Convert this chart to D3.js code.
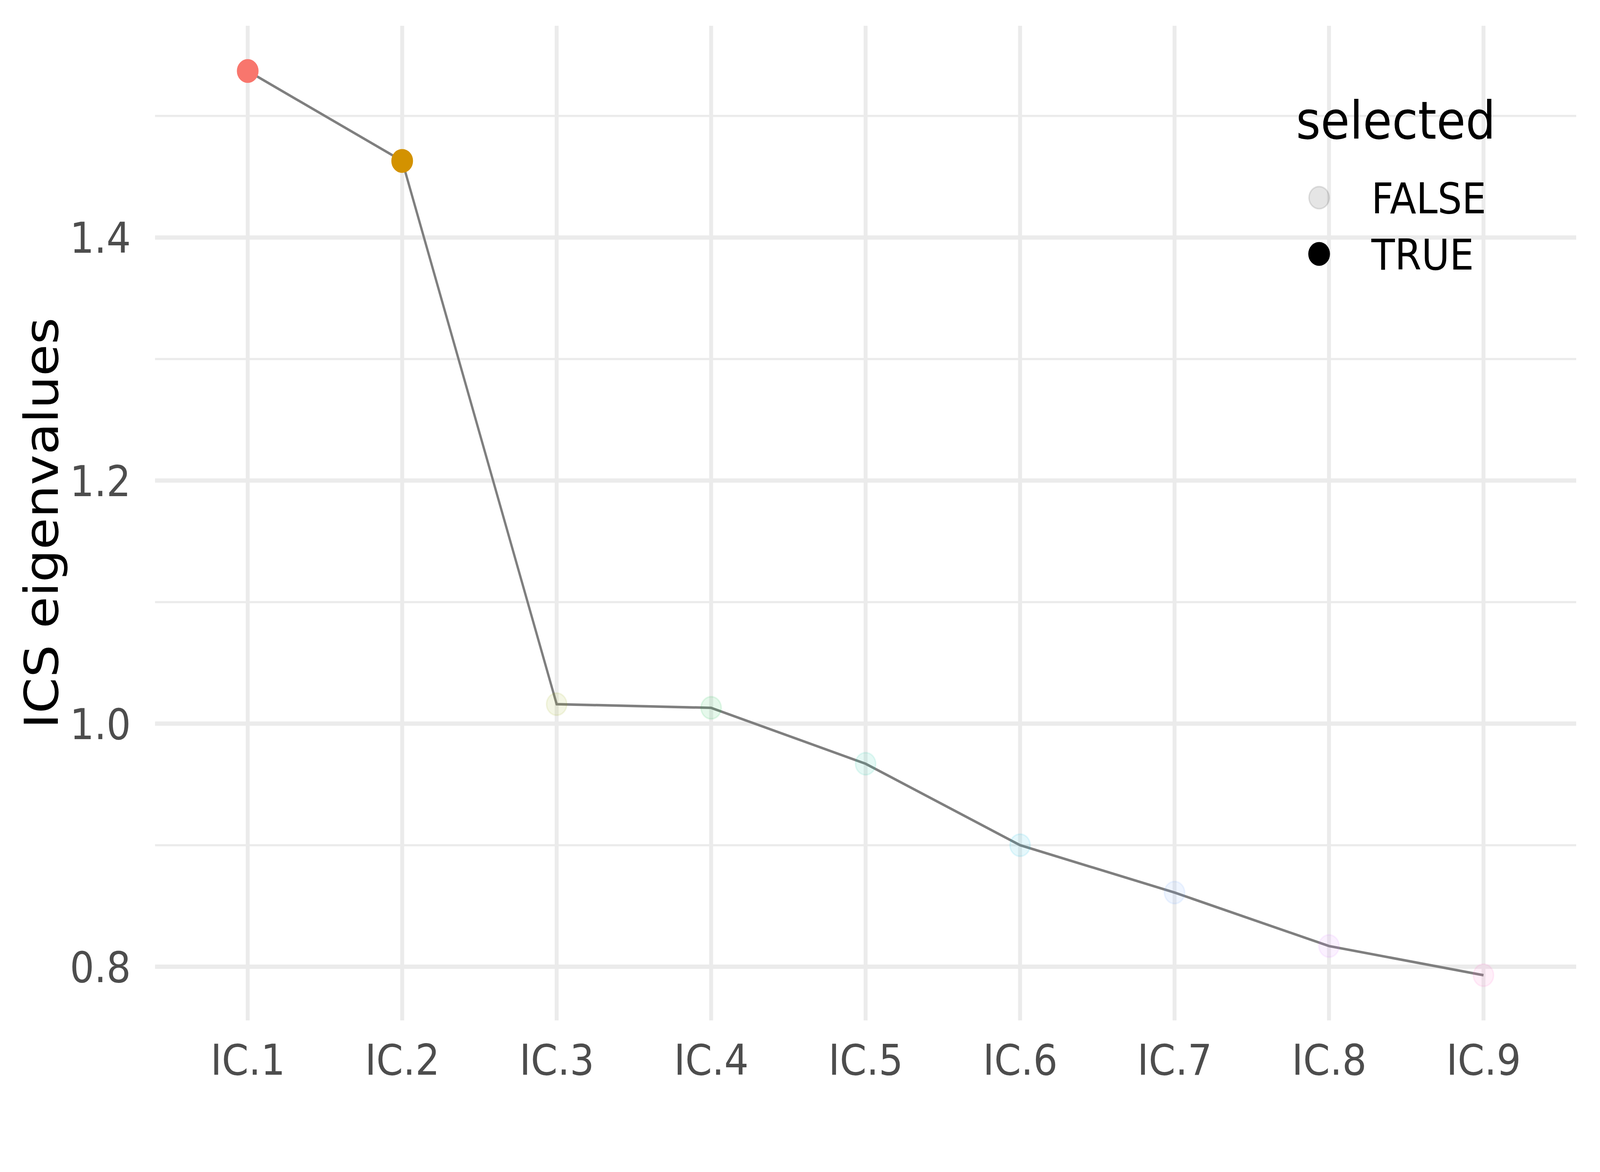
<!DOCTYPE html>
<html>
<head>
<meta charset="utf-8">
<script src="https://cdn.jsdelivr.net/npm/d3@7"></script>
<style>
  html, body { margin: 0; padding: 0; background: #fff; overflow: hidden; }
  svg { display: block; width: 100vw; height: 100vh; font-family: "DejaVu Sans", sans-serif; }
</style>
</head>
<body>
<div id="chart"></div>
<script>
// eigenvalues
var components = ["IC.1", "IC.2", "IC.3", "IC.4", "IC.5", "IC.6", "IC.7", "IC.8", "IC.9"];
var eigenvalues = [1.537, 1.463, 1.016, 1.013, 0.967, 0.900, 0.861, 0.817, 0.793];
var selected = [true, true, false, false, false, false, false, false, false];
var hueColors = ["#F8766D", "#D39200", "#93AA00", "#00BA38", "#00C19F", "#00B9E3", "#619CFF", "#DB72FB", "#FF61C3"];
var majorTicks = [0.8, 1.0, 1.2, 1.4];
var minorTicks = [0.9, 1.1, 1.3, 1.5];
var legendLabels = ["FALSE", "TRUE"];

var W = 4500, H = 3000;
var panel = {left: 436, right: 4433, top: 66, bottom: 2612};

// the browser window is narrower than 4500, so draw in a 4500x3000 box and fit it
var svg = d3.select("#chart").append("svg")
    .attr("viewBox", "0 0 " + W + " " + H)
    .attr("preserveAspectRatio", "none");
svg.append("rect").attr("width", W).attr("height", H).attr("fill", "#fff");

var data = components.map(function(c, i) {
    return {ic: c, value: eigenvalues[i], sel: selected[i], color: hueColors[i]};
});

// x discrete, ggplot pads 0.6 of a step each side
var x = d3.scalePoint().domain(components).range([panel.left, panel.right]).padding(0.6);

// y continuous with 5% expansion
var ext = d3.extent(eigenvalues);
var pad = (ext[1] - ext[0]) * 0.05;
var y = d3.scaleLinear().domain([ext[0] - pad, ext[1] + pad]).range([panel.bottom, panel.top]);

var grid = svg.append("g");
// minor horizontal
grid.selectAll("line.minor").data(minorTicks).enter().append("line")
    .attr("x1", panel.left).attr("x2", panel.right)
    .attr("y1", function(d) { return y(d); }).attr("y2", function(d) { return y(d); })
    .attr("stroke", "#EBEBEB").attr("stroke-width", 5.5);
// major horizontal
grid.selectAll("line.major").data(majorTicks).enter().append("line")
    .attr("x1", panel.left).attr("x2", panel.right)
    .attr("y1", function(d) { return y(d); }).attr("y2", function(d) { return y(d); })
    .attr("stroke", "#EBEBEB").attr("stroke-width", 11);
// vertical
grid.selectAll("line.vert").data(components).enter().append("line")
    .attr("x1", function(d) { return x(d); }).attr("x2", function(d) { return x(d); })
    .attr("y1", panel.top).attr("y2", panel.bottom)
    .attr("stroke", "#EBEBEB").attr("stroke-width", 11);

// axes (text only, theme_minimal)
var yAxis = svg.append("g").attr("transform", "translate(" + (panel.left - 68) + ",0)")
    .call(d3.axisLeft(y).tickValues(majorTicks).tickSize(0).tickPadding(0).tickFormat(d3.format(".1f")));
yAxis.select(".domain").remove();
yAxis.selectAll("text").attr("font-size", 108).attr("fill", "#4D4D4D")
    .attr("font-family", "DejaVu Sans").attr("dy", "0.36em");

var xAxis = svg.append("g").attr("transform", "translate(0," + (panel.bottom + 139) + ")")
    .call(d3.axisBottom(x).tickSize(0).tickPadding(0));
xAxis.select(".domain").remove();
xAxis.selectAll("text").attr("font-size", 108).attr("fill", "#4D4D4D")
    .attr("font-family", "DejaVu Sans").attr("dy", 0);

// y title
svg.append("text")
    .attr("transform", "translate(163," + ((panel.top + panel.bottom) / 2) + ") rotate(-90)")
    .attr("text-anchor", "middle").attr("font-size", 132).attr("fill", "#000")
    .text("ICS eigenvalues");

// line
var line = d3.line().x(function(d) { return x(d.ic); }).y(function(d) { return y(d.value); });
svg.append("path").datum(data).attr("d", line)
    .attr("fill", "none").attr("stroke", "#7F7F7F").attr("stroke-width", 6.5);

// points
svg.selectAll("circle.pt").data(data).enter().append("circle")
    .attr("cx", function(d) { return x(d.ic); })
    .attr("cy", function(d) { return y(d.value); })
    .attr("r", 28.5)
    .attr("fill", function(d) { return d.color; })
    .attr("fill-opacity", function(d) { return d.sel ? 1 : 0.1; })
    .attr("stroke", function(d) { return d.color; })
    .attr("stroke-opacity", function(d) { return d.sel ? 1 : 0.1; })
    .attr("stroke-width", 4);

// legend
var legend = svg.append("g");
legend.append("text").attr("x", 3645).attr("y", 355).attr("font-size", 133).attr("fill", "#000").text("selected");
var keys = legend.selectAll("g.key").data(legendLabels).enter().append("g")
    .attr("transform", function(d, i) { return "translate(3710," + (506 + i * 144) + ")"; });
keys.append("circle").attr("r", 28.5)
    .attr("fill", "#000").attr("fill-opacity", function(d, i) { return i ? 1 : 0.1; })
    .attr("stroke", "#000").attr("stroke-opacity", function(d, i) { return i ? 1 : 0.1; })
    .attr("stroke-width", 4);
keys.append("text").attr("x", 147).attr("y", 40).attr("font-size", 108).attr("fill", "#000")
    .text(function(d) { return d; });
</script>
</body>
</html>
